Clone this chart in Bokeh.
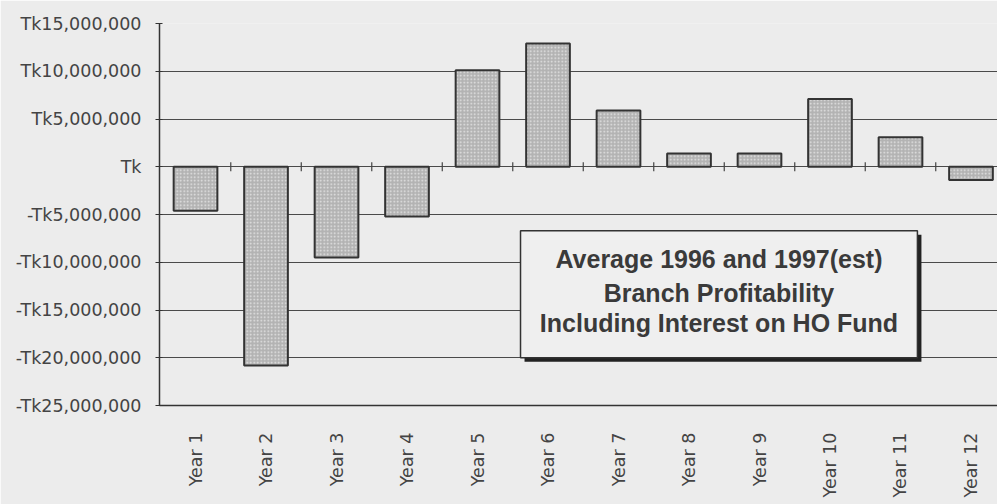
from math import pi
from bokeh.plotting import figure
from bokeh.models import Range1d, FixedTicker, ColumnDataSource
from bokeh.core.properties import value
from bokeh.embed import file_html
from bokeh.resources import INLINE

years = ["Year 1", "Year 2", "Year 3", "Year 4", "Year 5", "Year 6",
         "Year 7", "Year 8", "Year 9", "Year 10", "Year 11", "Year 12"]
profit = [-4.6e6, -20.8e6, -9.5e6, -5.2e6, 10.1e6, 12.9e6,
          5.9e6, 1.4e6, 1.4e6, 7.1e6, 3.1e6, -1.4e6]
y_ticks = [15e6, 10e6, 5e6, 0, -5e6, -10e6, -15e6, -20e6, -25e6]
y_tick_labels = ["Tk15,000,000", "Tk10,000,000", "Tk5,000,000", "Tk",
                 "-Tk5,000,000", "-Tk10,000,000", "-Tk15,000,000",
                 "-Tk20,000,000", "-Tk25,000,000"]
title_lines = ["Average 1996 and 1997(est)", "Branch Profitability",
               "Including Interest on HO Fund"]

BG = "#ececec"
xs = list(range(1, len(years) + 1))

p = figure(width=997, height=504, output_backend="svg", toolbar_location=None,
           x_range=Range1d(0.489, 12.376), y_range=Range1d(-25e6, 15e6),
           min_border_left=159, min_border_top=23, min_border_right=0,
           min_border_bottom=99)
p.background_fill_color = BG
p.border_fill_color = BG
p.outline_line_color = None

src = ColumnDataSource(dict(x=xs, top=profit))
p.vbar(x="x", top="top", bottom=0, width=0.62, source=src,
       fill_color="#b3b3b3", hatch_pattern="dot", hatch_color="#e6e6e6",
       hatch_scale=3.5, hatch_weight=1.3,
       line_color="#333333", line_width=2)

# small separator ticks on the zero line between categories
seps = [x + 0.5 for x in xs[:-1]]
p.scatter(x=seps, y=[0] * len(seps), marker="dash", angle=pi / 2, size=9,
          line_color="#444444", line_width=1.2)

# y axis
p.yaxis.ticker = FixedTicker(ticks=y_ticks)
p.yaxis.major_label_overrides = {t: l for t, l in zip(y_ticks, y_tick_labels)}
p.yaxis.major_label_text_font = "DejaVu Sans"
p.yaxis.major_label_text_font_size = "17.5px"
p.yaxis.major_label_text_color = "#444444"
p.yaxis.axis_line_color = "#333333"
p.yaxis.axis_line_width = 1.5
p.yaxis.major_tick_in = 3
p.yaxis.major_tick_out = 4
p.yaxis.major_tick_line_color = "#333333"
p.yaxis.minor_tick_line_color = None
p.yaxis.major_label_standoff = 14

# x axis
p.xaxis.ticker = FixedTicker(ticks=xs)
p.xaxis.major_label_overrides = {x: y for x, y in zip(xs, years)}
p.xaxis.major_label_orientation = pi / 2
p.xaxis.major_label_text_font = "DejaVu Sans"
p.xaxis.major_label_text_font_size = "17.5px"
p.xaxis.major_label_text_color = "#444444"
p.xaxis.axis_line_color = "#333333"
p.xaxis.axis_line_width = 1.5
p.xaxis.major_tick_line_color = None
p.xaxis.minor_tick_line_color = None
p.xaxis.major_label_standoff = 21

p.xgrid.grid_line_color = None
p.ygrid.ticker = FixedTicker(ticks=y_ticks)
p.ygrid.grid_line_color = "#4a4a4a"
p.ygrid.grid_line_width = 1.2

# title box with shadow
bl, br, bt, bb = 5.61, 11.24, -6.7e6, -20.0e6
dx, dy = 0.057, 0.42e6
p.quad(left=[bl + dx], right=[br + dx], top=[bt - dy], bottom=[bb - dy],
       fill_color="#222222", line_color=None)
p.quad(left=[bl], right=[br], top=[bt], bottom=[bb],
       fill_color="#efefef", line_color="#333333", line_width=1.5)
cx = (bl + br) / 2
p.text(x=[cx] * 3, y=[-9.63e6, -13.2e6, -16.4e6], text=title_lines,
       text_font=value("Liberation Sans"), text_font_style="bold",
       text_font_size="25px", text_color="#3a3a3a",
       text_align="center", text_baseline="middle")

open("out.html", "w").write(file_html(p, INLINE))
